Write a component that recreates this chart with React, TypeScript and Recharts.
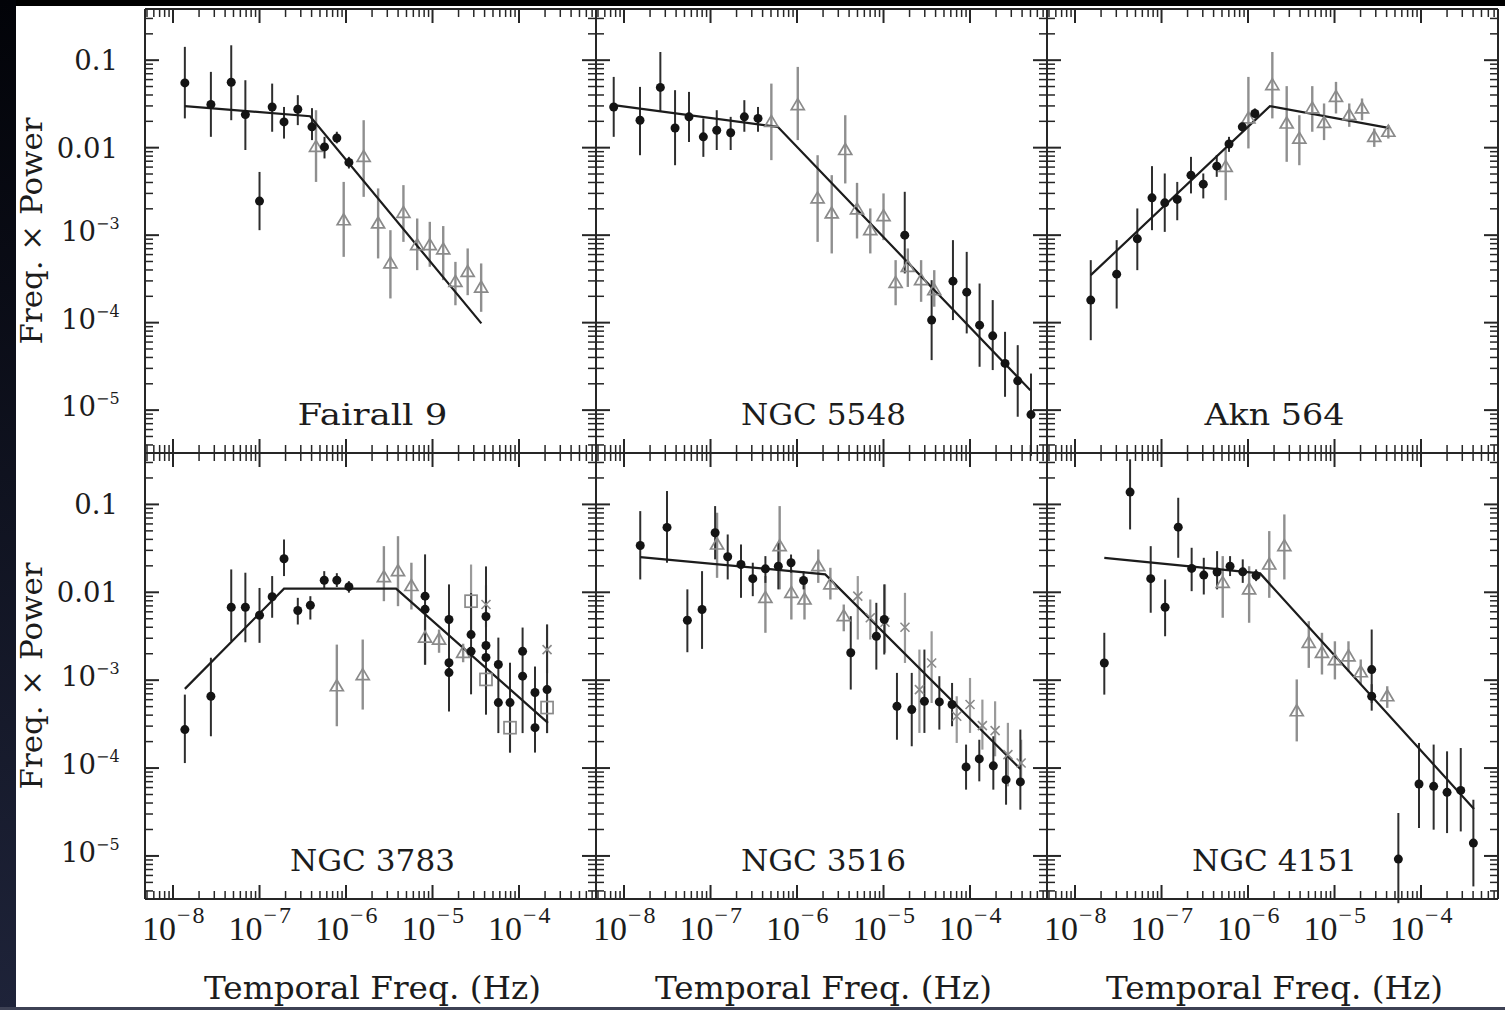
import React from 'react'
import { ComposedChart, ErrorBar, Label, Line, Scatter, XAxis, YAxis } from 'recharts'

// each point: [frequency (Hz), freq x power, lower end of bar, upper end of bar]
type Pt = [number, number, number, number]
type Vertex = [number, number]

const fairall9Dots: Pt[] = [
  [1.37e-8, 0.055, 0.0216, 0.142],
  [2.74e-8, 0.0312, 0.0133, 0.0735],
  [4.71e-8, 0.056, 0.0206, 0.148],
  [6.86e-8, 0.0239, 0.0094, 0.059],
  [1.0e-7, 0.00245, 0.00114, 0.00528],
  [1.4e-7, 0.0292, 0.0152, 0.054],
  [1.92e-7, 0.0197, 0.0127, 0.0292],
  [2.77e-7, 0.0275, 0.0181, 0.0398],
  [4.04e-7, 0.0173, 0.0122, 0.0283],
  [5.64e-7, 0.0102, 0.00753, 0.0133],
  [7.83e-7, 0.0129, 0.0112, 0.0152],
  [1.08e-6, 0.00678, 0.00578, 0.00785],
]
const fairall9Tris: Pt[] = [
  [4.5e-7, 0.0102, 0.00406, 0.0268],
  [9.4e-7, 0.00148, 0.000565, 0.00406],
  [1.6e-6, 0.00785, 0.00274, 0.0206],
  [2.35e-6, 0.00136, 0.000542, 0.00342],
  [3.26e-6, 0.000475, 0.000189, 0.00114],
  [4.61e-6, 0.0018, 0.000838, 0.00373],
  [6.65e-6, 0.000769, 0.000398, 0.00155],
  [9.3e-6, 0.000769, 0.000435, 0.00142],
  [1.33e-5, 0.000687, 0.000306, 0.00127],
  [1.84e-5, 0.000292, 0.000158, 0.000495],
  [2.55e-5, 0.000381, 0.000206, 0.000705],
  [3.65e-5, 0.000252, 0.000133, 0.000475],
]
const fairall9Model: Vertex[] = [[1.37e-8, 0.0298], [3.84e-7, 0.0229], [3.67e-5, 9.8e-5]]

const ngc5548Dots: Pt[] = [
  [7.6e-9, 0.0292, 0.0133, 0.0644],
  [1.53e-8, 0.0206, 0.0082, 0.0495],
  [2.63e-8, 0.0488, 0.0256, 0.124],
  [3.89e-8, 0.0168, 0.0063, 0.0454],
  [5.64e-8, 0.0225, 0.0116, 0.0434],
  [8.26e-8, 0.0133, 0.00785, 0.0216],
  [1.18e-7, 0.0158, 0.0094, 0.0268],
  [1.71e-7, 0.0148, 0.0094, 0.0225],
  [2.46e-7, 0.0225, 0.0152, 0.0349],
  [3.54e-7, 0.0216, 0.0152, 0.0292],
  [1.76e-5, 0.001, 0.000365, 0.00313],
  [3.6e-5, 0.000107, 3.73e-5, 0.000306],
  [6.35e-5, 0.000298, 0.000107, 0.000877],
  [9.16e-5, 0.000223, 7.53e-5, 0.000644],
  [1.29e-4, 9.36e-5, 3.13e-5, 0.00028],
  [1.83e-4, 7.06e-5, 2.87e-5, 0.000181],
  [2.54e-4, 3.42e-5, 1.42e-5, 7.85e-5],
  [3.56e-4, 2.16e-5, 8.4e-6, 5.53e-5],
  [5.07e-4, 8.9e-6, 3.0e-6, 2.62e-5],
]
const ngc5548Tris: Pt[] = [
  [5.05e-7, 0.0197, 0.0072, 0.054],
  [1.02e-6, 0.0306, 0.0122, 0.0838],
  [1.73e-6, 0.00263, 0.000838, 0.0082],
  [2.52e-6, 0.00177, 0.000618, 0.00485],
  [3.61e-6, 0.0094, 0.0039, 0.0235],
  [4.94e-6, 0.00197, 0.000916, 0.00396],
  [7.03e-6, 0.00114, 0.000618, 0.00202],
  [1.0e-5, 0.00165, 0.000877, 0.003],
  [1.38e-5, 0.000285, 0.000158, 0.000518],
  [1.91e-5, 0.000435, 0.000256, 0.000705],
  [2.72e-5, 0.000306, 0.000173, 0.000518],
  [3.86e-5, 0.000235, 0.000152, 0.000398],
]
const ngc5548Model: Vertex[] = [[7.6e-9, 0.0306], [5.98e-7, 0.0173], [4.98e-4, 1.69e-5]]

const akn564Dots: Pt[] = [
  [1.52e-8, 0.000181, 6.3e-5, 0.000518],
  [3.03e-8, 0.000358, 0.000145, 0.000877],
  [5.25e-8, 0.000907, 0.000398, 0.00202],
  [7.76e-8, 0.00267, 0.00114, 0.00615],
  [1.09e-7, 0.00234, 0.00109, 0.00507],
  [1.52e-7, 0.00256, 0.00148, 0.00406],
  [2.19e-7, 0.00485, 0.003, 0.00785],
  [3.04e-7, 0.00383, 0.00263, 0.00507],
  [4.35e-7, 0.00615, 0.00464, 0.0082],
  [6.03e-7, 0.011, 0.00895, 0.0133],
  [8.59e-7, 0.0173, 0.0152, 0.0197],
  [1.2e-6, 0.0246, 0.0216, 0.0281],
]
const akn564Tris: Pt[] = [
  [5.52e-7, 0.00604, 0.00251, 0.0098],
  [1.01e-6, 0.0216, 0.0098, 0.0644],
  [1.91e-6, 0.0518, 0.0216, 0.124],
  [2.8e-6, 0.0189, 0.00689, 0.0505],
  [3.92e-6, 0.0127, 0.0063, 0.0235],
  [5.53e-6, 0.0281, 0.0152, 0.0505],
  [7.57e-6, 0.0192, 0.0122, 0.032],
  [1.04e-5, 0.0381, 0.0246, 0.0565],
  [1.48e-5, 0.0235, 0.0173, 0.032],
  [2.08e-5, 0.0281, 0.0206, 0.0365],
  [2.88e-5, 0.0133, 0.0102, 0.0166],
  [4.19e-5, 0.0152, 0.0127, 0.0181],
]
const akn564Model: Vertex[] = [[1.52e-8, 0.000349], [1.79e-6, 0.0298], [4.19e-5, 0.0168]]

const ngc3783Dots: Pt[] = [
  [1.37e-8, 0.000274, 0.000114, 0.000685],
  [2.74e-8, 0.000656, 0.00023, 0.0018],
  [4.71e-8, 0.00676, 0.00277, 0.0182],
  [6.86e-8, 0.00676, 0.0027, 0.0167],
  [1.0e-7, 0.00548, 0.00266, 0.0112],
  [1.4e-7, 0.00889, 0.00513, 0.0153],
  [1.92e-7, 0.0241, 0.0153, 0.0399],
  [2.77e-7, 0.00621, 0.0043, 0.00865],
  [3.87e-7, 0.00713, 0.0049, 0.00903],
  [5.6e-7, 0.0137, 0.0112, 0.0174],
  [7.83e-7, 0.0137, 0.0115, 0.0165],
  [1.08e-6, 0.0116, 0.0099, 0.0134],
  [8.2e-6, 0.00903, 0.0015, 0.027],
  [8.2e-6, 0.0064, 0.0064, 0.0064],
  [1.55e-5, 0.0049, 0.00044, 0.0123],
  [1.55e-5, 0.00158, 0.00158, 0.00158],
  [1.55e-5, 0.00122, 0.00122, 0.00122],
  [2.79e-5, 0.0033, 0.00069, 0.0098],
  [2.79e-5, 0.00213, 0.00213, 0.00213],
  [4.15e-5, 0.0053, 0.000405, 0.0197],
  [4.15e-5, 0.00248, 0.00248, 0.00248],
  [4.15e-5, 0.00181, 0.00181, 0.00181],
  [5.77e-5, 0.00151, 0.00025, 0.00305],
  [5.77e-5, 0.000556, 0.000556, 0.000556],
  [7.87e-5, 0.000556, 0.00015, 0.00158],
  [1.1e-4, 0.00213, 0.00025, 0.00397],
  [1.1e-4, 0.00111, 0.00111, 0.00111],
  [1.53e-4, 0.000723, 0.00015, 0.00143],
  [1.53e-4, 0.000288, 0.000288, 0.000288],
  [2.11e-4, 0.000782, 0.00025, 0.0043],
]
const ngc3783Tris: Pt[] = [
  [7.83e-7, 0.000853, 0.000299, 0.00254],
  [1.56e-6, 0.00114, 0.000463, 0.0029],
  [2.74e-6, 0.0149, 0.00792, 0.0335],
  [3.99e-6, 0.0174, 0.00695, 0.0435],
  [5.7e-6, 0.0118, 0.00637, 0.0217],
  [8.2e-6, 0.00305, 0.0015, 0.005],
  [1.19e-5, 0.0029, 0.00205, 0.00377],
  [2.26e-5, 0.00205, 0.0016, 0.0026],
]
const ngc3783Squares: Pt[] = [
  [2.79e-5, 0.00792, 0.0035, 0.0207],
  [4.15e-5, 0.00102, 0.0008, 0.0013],
  [7.87e-5, 0.000288, 0.00015, 0.00055],
  [2.11e-4, 0.000488, 0.00025, 0.0008],
]
const ngc3783Crosses: Pt[] = [
  [4.15e-5, 0.00726, 0.004, 0.012],
  [2.11e-4, 0.00223, 0.0012, 0.0043],
]
const ngc3783Model: Vertex[] = [[1.37e-8, 0.000796], [1.92e-7, 0.011], [3.79e-6, 0.011], [2.16e-4, 0.000327]]

const ngc3516Dots: Pt[] = [
  [1.54e-8, 0.0341, 0.014, 0.0839],
  [3.14e-8, 0.0547, 0.0217, 0.142],
  [5.4e-8, 0.00481, 0.00208, 0.0108],
  [7.98e-8, 0.00637, 0.00227, 0.0174],
  [1.13e-7, 0.0476, 0.0237, 0.0957],
  [1.58e-7, 0.0254, 0.014, 0.0455],
  [2.25e-7, 0.0207, 0.00865, 0.035],
  [3.08e-7, 0.0143, 0.00903, 0.0217],
  [4.31e-7, 0.0185, 0.0128, 0.0258],
  [6.08e-7, 0.0198, 0.0108, 0.0366],
  [8.53e-7, 0.0217, 0.0167, 0.0269],
  [1.19e-6, 0.0136, 0.0108, 0.0174],
  [4.18e-6, 0.00205, 0.000782, 0.00535],
  [8.26e-6, 0.00316, 0.00132, 0.00759],
  [1.02e-5, 0.0049, 0.00196, 0.0123],
  [1.43e-5, 0.000505, 0.00021, 0.00121],
  [2.12e-5, 0.000463, 0.000177, 0.00121],
  [2.97e-5, 0.000575, 0.000251, 0.00223],
  [4.42e-5, 0.000566, 0.000274, 0.00111],
  [6.2e-5, 0.000528, 0.000299, 0.00093],
  [9.0e-5, 0.000103, 5.68e-5, 0.000185],
  [1.28e-4, 0.000127, 7.06e-5, 0.00021],
  [1.86e-4, 0.000106, 5.68e-5, 0.00023],
  [2.61e-4, 7.38e-5, 3.83e-5, 0.000136],
  [3.82e-4, 6.95e-5, 3.36e-5, 0.000274],
]
const ngc3516Tris: Pt[] = [
  [1.19e-7, 0.035, 0.0146, 0.0804],
  [4.31e-7, 0.00865, 0.00346, 0.0153],
  [6.3e-7, 0.0335, 0.0108, 0.0957],
  [8.6e-7, 0.00986, 0.0049, 0.0182],
  [1.22e-6, 0.00828, 0.0049, 0.014],
  [1.76e-6, 0.0198, 0.0128, 0.0307],
  [2.43e-6, 0.0123, 0.00828, 0.019],
  [3.47e-6, 0.00535, 0.0036, 0.00726],
]
const ngc3516Crosses: Pt[] = [
  [5.04e-6, 0.00903, 0.0029, 0.0153],
  [7.03e-6, 0.00513, 0.0029, 0.00828],
  [1.04e-5, 0.00456, 0.00205, 0.0123],
  [1.77e-5, 0.004, 0.00157, 0.00986],
  [2.6e-5, 0.000782, 0.000251, 0.00223],
  [3.6e-5, 0.00157, 0.00055, 0.0036],
  [7.02e-5, 0.000388, 0.000193, 0.000656],
  [1.0e-4, 0.000528, 0.000251, 0.00106],
  [1.39e-4, 0.000304, 0.000162, 0.000601],
  [1.95e-4, 0.000267, 0.000136, 0.000575],
  [2.74e-4, 0.000142, 6.19e-5, 0.000327],
  [3.9e-4, 0.000114, 6.76e-5, 0.00021],
]
const ngc3516Model: Vertex[] = [[1.54e-8, 0.0251], [2.12e-6, 0.016], [3.82e-4, 9.77e-5]]

const ngc4151Dots: Pt[] = [
  [2.18e-8, 0.00157, 0.000685, 0.00346],
  [4.33e-8, 0.138, 0.0519, 0.326],
  [7.5e-8, 0.0143, 0.00585, 0.0335],
  [1.1e-7, 0.00676, 0.00316, 0.014],
  [1.56e-7, 0.0551, 0.0247, 0.119],
  [2.23e-7, 0.0187, 0.0103, 0.0321],
  [3.08e-7, 0.0157, 0.00944, 0.0247],
  [4.39e-7, 0.017, 0.0108, 0.0294],
  [6.2e-7, 0.0198, 0.0153, 0.0258],
  [8.69e-7, 0.0171, 0.0128, 0.0237],
  [1.24e-6, 0.0155, 0.0134, 0.0182],
  [2.69e-5, 0.00132, 0.00055, 0.00377],
  [2.69e-5, 0.000656, 0.00045, 0.0009],
  [5.47e-5, 9.2e-6, 2.9e-6, 3.08e-5],
  [9.48e-5, 6.59e-5, 2.08e-5, 0.000193],
  [1.4e-4, 6.19e-5, 1.99e-5, 0.000185],
  [2.0e-4, 5.29e-5, 1.82e-5, 0.000155],
  [2.88e-4, 5.57e-5, 1.9e-5, 0.000169],
  [4.03e-4, 1.4e-5, 4.5e-6, 4.36e-5],
]
const ngc4151Tris: Pt[] = [
  [5.1e-7, 0.0128, 0.00513, 0.0258],
  [1.03e-6, 0.0108, 0.0045, 0.0198],
  [1.76e-6, 0.0207, 0.00865, 0.0497],
  [2.63e-6, 0.0335, 0.014, 0.0769],
  [3.66e-6, 0.000443, 0.000201, 0.00102],
  [5.04e-6, 0.00266, 0.00138, 0.00469],
  [7.16e-6, 0.00205, 0.00116, 0.00346],
  [1.01e-5, 0.00169, 0.00102, 0.00277],
  [1.45e-5, 0.00187, 0.00126, 0.00277],
  [2.01e-5, 0.00123, 0.000891, 0.00172],
  [4.07e-5, 0.000656, 0.000484, 0.000853],
]
const ngc4151Model: Vertex[] = [[2.18e-8, 0.0247], [1.38e-6, 0.0164], [4.1e-4, 3.42e-5]]

// axes
const majorX = [1e-8, 1e-7, 1e-6, 1e-5, 1e-4]
const majorY = [1e-5, 1e-4, 1e-3, 0.01, 0.1]
const minorSteps = [2, 3, 4, 5, 6, 7, 8, 9]
const yPlainLabels: Record<string, string> = { '0.1': '0.1', '0.01': '0.01' }
const X_DOMAIN: [number, number] = [10 ** -8.324, 10 ** -3.11]
const Y_DOMAIN: [number, number] = [10 ** -5.49, 10 ** -0.415]

const SERIF = '"DejaVu Serif", "Liberation Serif", serif'
const NARROW_SERIF = '"Liberation Serif", "DejaVu Serif", serif'
const FRAME = '#262626'
const INK = '#1c1c1c'
const GREY = '#8a8a8a'

const COL_X = [145, 596, 1047]
const ROW_Y = [9, 453]
const ROW_H = [444, 446]
const PANEL_W = 451

function buildTicks(majors: number[], domain: [number, number]) {
  const decades = [majors[0] / 10, ...majors]
  return decades
    .flatMap((d) => [d, ...minorSteps.map((k) => k * d)])
    .filter((v) => v >= domain[0] && v <= domain[1])
}
const xTicks = buildTicks(majorX, X_DOMAIN)
const yTicks = buildTicks(majorY, Y_DOMAIN)

const isMajor = (v: number) => Math.abs(Math.log10(v) - Math.round(Math.log10(v))) < 1e-6
const expText = (v: number) => {
  const e = Math.round(Math.log10(v))
  return (e < 0 ? '\u2212' : '') + Math.abs(e)
}

function makeXTick(side: 'top' | 'bottom', withLabel: boolean) {
  return (props: any) => {
    const { x, y, payload } = props
    const major = isMajor(payload.value)
    const len = major ? 14 : 8
    return (
      <g>
        <line x1={x} y1={y} x2={x} y2={side === 'bottom' ? y - len : y + len} stroke={FRAME} strokeWidth={major ? 2 : 1.5} />
        {withLabel && major && (
          <text x={x - 31} y={y + 41} fontFamily={NARROW_SERIF} fontSize={34} fill={INK}>
            10
            <tspan dx={1} dy={-17} fontSize={24} letterSpacing={2}>
              {expText(payload.value)}
            </tspan>
          </text>
        )}
      </g>
    )
  }
}

function makeYTick(side: 'left' | 'right', withLabel: boolean) {
  return (props: any) => {
    const { x, y, payload } = props
    const v = payload.value
    const major = isMajor(v)
    const len = major ? 14 : 8
    const plain = yPlainLabels[String(+v.toPrecision(3))]
    return (
      <g>
        <line x1={x} y1={y} x2={side === 'left' ? x + len : x - len} y2={y} stroke={FRAME} strokeWidth={major ? 2 : 1.5} />
        {withLabel && major && plain && (
          <text x={x - 27} y={y + 10} textAnchor="end" fontFamily={SERIF} fontSize={27.5} fill={INK}>
            {plain}
          </text>
        )}
        {withLabel && major && !plain && (
          <text x={x - 84} y={y + 6} fontFamily={SERIF} fontSize={27.5} fill={INK}>
            10
            <tspan dy={-12} fontSize={16}>
              {expText(v)}
            </tspan>
          </text>
        )}
      </g>
    )
  }
}

const dotShape = (p: any) => <circle cx={p.cx} cy={p.cy} r={4.5} fill="#141414" />
const triShape = (p: any) => (
  <path d={`M${p.cx},${p.cy - 6.5}L${p.cx + 6.5},${p.cy + 4.5}L${p.cx - 6.5},${p.cy + 4.5}Z`} fill="none" stroke={GREY} strokeWidth={1.7} />
)
const squareShape = (p: any) => (
  <rect x={p.cx - 6} y={p.cy - 6} width={12} height={12} fill="none" stroke={GREY} strokeWidth={1.7} />
)
const crossShape = (p: any) => (
  <path d={`M${p.cx - 4.5},${p.cy - 4.5}L${p.cx + 4.5},${p.cy + 4.5}M${p.cx - 4.5},${p.cy + 4.5}L${p.cx + 4.5},${p.cy - 4.5}`} stroke={GREY} strokeWidth={1.6} />
)

const toRows = (pts: Pt[]) => pts.map(([x, y, lo, hi]) => ({ x, y, err: [y - lo, hi - y] }))

type PanelProps = {
  name: string
  nameWidth: number
  col: number
  row: number
  dots: Pt[]
  tris?: Pt[]
  squares?: Pt[]
  crosses?: Pt[]
  model: Vertex[]
}

function Panel({ name, nameWidth, col, row, dots, tris = [], squares = [], crosses = [], model }: PanelProps) {
  // outer space around the frame; the axes take 1px each (a 0px axis is not drawn)
  const pad = { top: 12, right: 12, bottom: row === 1 ? 112 : 12, left: col === 0 ? 140 : 12 }
  const m = { top: pad.top - 1, right: pad.right - 1, bottom: pad.bottom - 1, left: pad.left - 1 }
  const h = ROW_H[row]
  const axisProps = {
    type: 'number' as const,
    scale: 'log' as const,
    allowDataOverflow: true,
    interval: 0 as const,
    tickSize: 0,
    tickMargin: 0,
    tickLine: false,
    axisLine: { stroke: FRAME, strokeWidth: 2 },
  }
  return (
    <div style={{ position: 'absolute', left: COL_X[col] - pad.left, top: ROW_Y[row] - pad.top }}>
      <ComposedChart width={PANEL_W + pad.left + pad.right} height={h + pad.top + pad.bottom} margin={m}>
        <XAxis {...axisProps} dataKey="x" domain={X_DOMAIN} ticks={xTicks} height={1} tick={makeXTick('bottom', row === 1)}>
          <Label
            content={(p: any) => (
              <text
                x={p.viewBox.x + p.viewBox.width / 2 + 2}
                y={p.viewBox.y - 28}
                textAnchor="middle"
                fontFamily={SERIF}
                fontSize={30}
                fill={INK}
                textLength={nameWidth}
                lengthAdjust="spacingAndGlyphs"
              >
                {name}
              </text>
            )}
          />
          {row === 1 && (
            <Label
              content={(p: any) => (
                <text
                  x={p.viewBox.x + p.viewBox.width / 2 + 2}
                  y={p.viewBox.y + 100}
                  textAnchor="middle"
                  fontFamily={SERIF}
                  fontSize={32}
                  fill={INK}
                  textLength={337}
                  lengthAdjust="spacingAndGlyphs"
                >
                  Temporal Freq. (Hz)
                </text>
              )}
            />
          )}
        </XAxis>
        <XAxis {...axisProps} dataKey="x" xAxisId="top" orientation="top" domain={X_DOMAIN} ticks={xTicks} height={1} tick={makeXTick('top', false)} />
        <YAxis {...axisProps} dataKey="y" domain={Y_DOMAIN} ticks={yTicks} width={1} tick={makeYTick('left', col === 0)}>
          {col === 0 && (
            <Label
              content={(p: any) => {
                const cx = p.viewBox.x + p.viewBox.width - 103
                const cy = p.viewBox.y + p.viewBox.height / 2
                return (
                  <text
                    x={cx}
                    y={cy}
                    transform={`rotate(-90, ${cx}, ${cy})`}
                    textAnchor="middle"
                    fontFamily={SERIF}
                    fontSize={30}
                    fill={INK}
                    textLength={227}
                    lengthAdjust="spacingAndGlyphs"
                  >
                    Freq. × Power
                  </text>
                )
              }}
            />
          )}
        </YAxis>
        <YAxis {...axisProps} dataKey="y" yAxisId="right" orientation="right" domain={Y_DOMAIN} ticks={yTicks} width={1} tick={makeYTick('right', false)} />

        {tris.length > 0 && (
          <Scatter data={toRows(tris)} dataKey="y" shape={triShape} isAnimationActive={false}>
            <ErrorBar dataKey="err" direction="y" width={0} stroke="#8f8f8f" strokeWidth={2.4} />
          </Scatter>
        )}
        {squares.length > 0 && (
          <Scatter data={toRows(squares)} dataKey="y" shape={squareShape} isAnimationActive={false}>
            <ErrorBar dataKey="err" direction="y" width={0} stroke="#9a9a9a" strokeWidth={2.2} />
          </Scatter>
        )}
        {crosses.length > 0 && (
          <Scatter data={toRows(crosses)} dataKey="y" shape={crossShape} isAnimationActive={false}>
            <ErrorBar dataKey="err" direction="y" width={0} stroke="#9a9a9a" strokeWidth={2.2} />
          </Scatter>
        )}
        <Scatter data={toRows(dots)} dataKey="y" shape={dotShape} isAnimationActive={false}>
          <ErrorBar dataKey="err" direction="y" width={0} stroke="#2e2e2e" strokeWidth={2} />
        </Scatter>
        <Line
          data={model.map(([x, y]) => ({ x, y }))}
          dataKey="y"
          type="linear"
          stroke={INK}
          strokeWidth={2.2}
          dot={false}
          activeDot={false}
          isAnimationActive={false}
        />
      </ComposedChart>
    </div>
  )
}

export default function App() {
  return (
    <div style={{ position: 'absolute', left: 0, top: 0, width: 1505, height: 1010, background: '#000', overflow: 'hidden' }}>
      <div style={{ position: 'absolute', left: 0, top: 0, width: 16, height: 1010, background: 'linear-gradient(#020308, #1e2339)' }} />
      <div style={{ position: 'absolute', left: 0, top: 1007, width: 1505, height: 3, background: '#3d4154' }} />
      <div style={{ position: 'absolute', left: 16, top: 6, width: 1489, height: 1001, background: '#fff' }} />

      <Panel name="Fairall 9" nameWidth={150} col={0} row={0} dots={fairall9Dots} tris={fairall9Tris} model={fairall9Model} />
      <Panel name="NGC 5548" nameWidth={165} col={1} row={0} dots={ngc5548Dots} tris={ngc5548Tris} model={ngc5548Model} />
      <Panel name="Akn 564" nameWidth={140} col={2} row={0} dots={akn564Dots} tris={akn564Tris} model={akn564Model} />
      <Panel
        name="NGC 3783"
        nameWidth={165}
        col={0}
        row={1}
        dots={ngc3783Dots}
        tris={ngc3783Tris}
        squares={ngc3783Squares}
        crosses={ngc3783Crosses}
        model={ngc3783Model}
      />
      <Panel name="NGC 3516" nameWidth={165} col={1} row={1} dots={ngc3516Dots} tris={ngc3516Tris} crosses={ngc3516Crosses} model={ngc3516Model} />
      <Panel name="NGC 4151" nameWidth={165} col={2} row={1} dots={ngc4151Dots} tris={ngc4151Tris} model={ngc4151Model} />
    </div>
  )
}
